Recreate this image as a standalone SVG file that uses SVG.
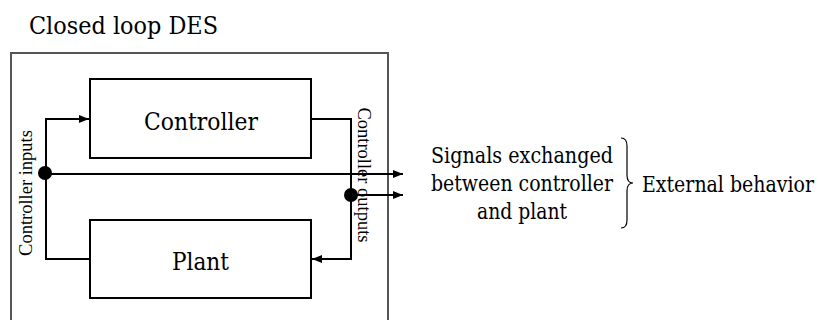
<svg xmlns="http://www.w3.org/2000/svg" width="821" height="320" viewBox="0 0 821 320">
<defs>
<marker id="ah" viewBox="0 0 10 8" refX="10" refY="4" markerWidth="10" markerHeight="8" markerUnits="userSpaceOnUse" orient="auto">
<path d="M0,0 L10,4 L0,8 Z" fill="#000"/>
</marker>
<style>
.box{fill:#fff;stroke:#000;stroke-width:2}
.ln{fill:none;stroke:#000;stroke-width:2}
.big{font-family:'DejaVu Serif',serif;font-size:24.5px;fill:#000}
.sig{font-family:'DejaVu Serif',serif;font-size:22px;fill:#000}
.side{font-family:'Liberation Serif','Times New Roman',serif;font-size:18.5px;text-anchor:middle;fill:#000}
</style>
</defs>
<rect width="821" height="320" fill="#fff"/>
<text class="big" x="29" y="34" textLength="189" lengthAdjust="spacingAndGlyphs">Closed loop DES</text>
<g id="outer">
<path d="M11,330 L11,53 L388,53 L388,330" fill="none" stroke="#555" stroke-width="2"/>
</g>
<g id="controller">
<rect class="box" x="90" y="79" width="221" height="79"/>
<text class="big" x="144" y="130" textLength="114" lengthAdjust="spacingAndGlyphs">Controller</text>
</g>
<g id="plant">
<rect class="box" x="90" y="220" width="221" height="78"/>
<text class="big" x="172" y="270" textLength="57" lengthAdjust="spacingAndGlyphs">Plant</text>
</g>
<g id="labels">
<text class="side" transform="translate(32,193) rotate(-90)">Controller inputs</text>
<text class="side" transform="translate(358,175) rotate(90)">Controller outputs</text>
</g>
<g id="connectors">
<path class="ln" d="M90,259 L46,259 L46,119 L89,119" marker-end="url(#ah)"/>
<path class="ln" d="M311,119 L351,119 L351,259 L312,259" marker-end="url(#ah)"/>
<path class="ln" d="M46,174 L403,174" marker-end="url(#ah)"/>
<path class="ln" d="M351,195 L403,195" marker-end="url(#ah)"/>
<circle cx="45" cy="173" r="7" fill="#000"/>
<circle cx="351" cy="195" r="7" fill="#000"/>
</g>
<g id="signals">
<text class="sig" x="431" y="163" textLength="182" lengthAdjust="spacingAndGlyphs">Signals exchanged</text>
<text class="sig" x="431" y="191" textLength="182" lengthAdjust="spacingAndGlyphs">between controller</text>
<text class="sig" x="477" y="219" textLength="90" lengthAdjust="spacingAndGlyphs">and plant</text>
<path d="M621,138 Q627,138 627,146 L627,175 Q627,183 633,183 Q627,183 627,191 L627,220 Q627,228 621,228" fill="none" stroke="#000" stroke-width="1.2"/>
<text class="sig" x="642" y="192" textLength="172" lengthAdjust="spacingAndGlyphs">External behavior</text>
</g>
</svg>
